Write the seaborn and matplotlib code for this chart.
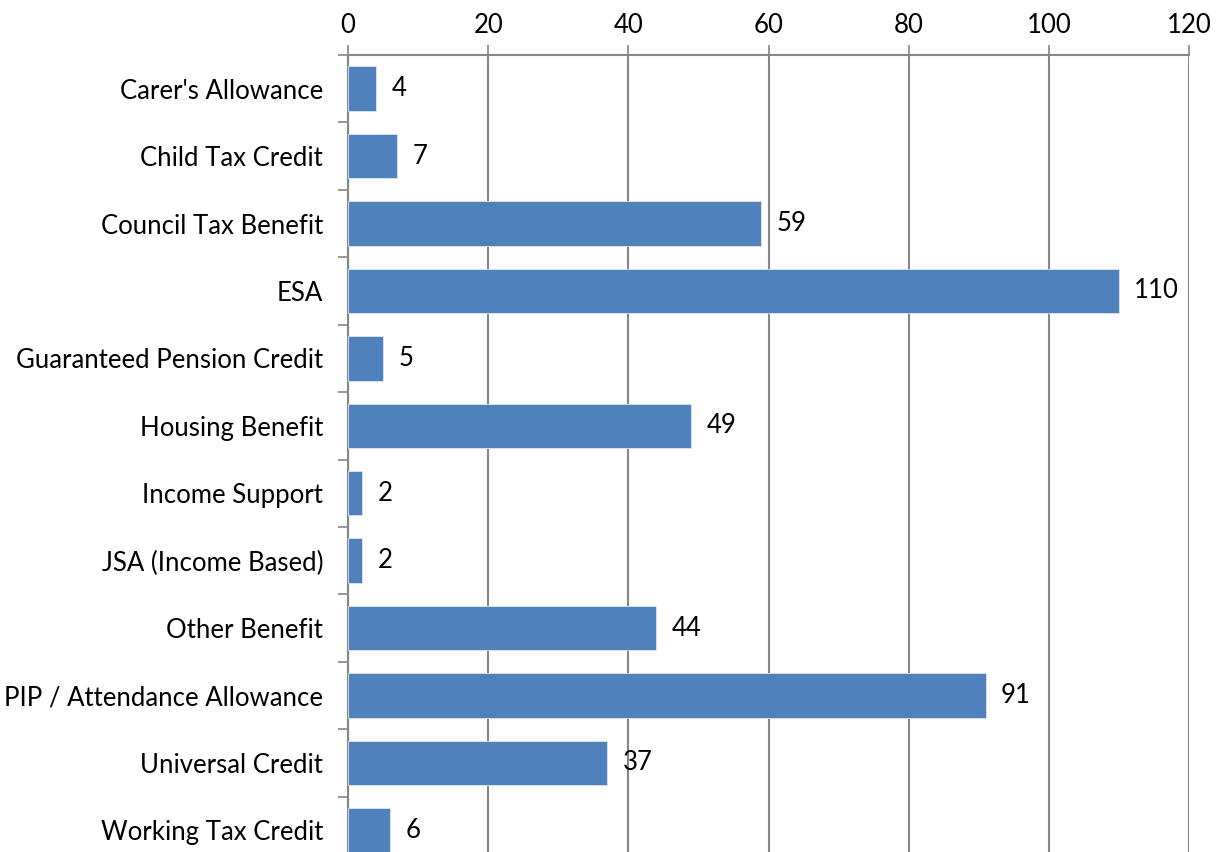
import matplotlib
matplotlib.use("Agg")
import matplotlib.pyplot as plt
from matplotlib.ticker import FixedLocator
import numpy as np
import pandas as pd
import seaborn as sns

benefits = ["Carer's Allowance", "Child Tax Credit", "Council Tax Benefit", "ESA",
            "Guaranteed Pension Credit", "Housing Benefit", "Income Support",
            "JSA (Income Based)", "Other Benefit", "PIP / Attendance Allowance",
            "Universal Credit", "Working Tax Credit"]
counts = [4, 7, 59, 110, 5, 49, 2, 2, 44, 91, 37, 6]
x_ticks = [0, 20, 40, 60, 80, 100, 120]

df = pd.DataFrame({"benefit": benefits, "count": counts})

sns.set_style("white")
plt.rcParams['font.family'] = ['Lato', 'DejaVu Sans']
plt.rcParams['text.color'] = 'black'
plt.rcParams['xtick.color'] = 'black'
plt.rcParams['ytick.color'] = 'black'

fig = plt.figure(figsize=(12.29, 8.52), dpi=100)
# axes top at y=55 px, bottom runs off the figure
ax = fig.add_axes([348 / 1229, 1 - 864 / 852, (1189 - 348) / 1229, (864 - 55) / 852])

sns.barplot(data=df, x="count", y="benefit", orient="h", color="#4F81BD",
            saturation=1, width=0.66, edgecolor="#dce6f2", linewidth=0.6, ax=ax, zorder=3)

ax.set_xlim(0, 120)
ax.set_ylim(len(benefits) - 0.5, -0.5)
ax.xaxis.set_major_locator(FixedLocator(x_ticks))
ax.xaxis.tick_top()
ax.grid(axis="x", color="#868686", linewidth=1.5, zorder=0)
ax.set_axisbelow(True)

# y ticks between categories
ax.set_yticks(np.arange(len(benefits)))
ax.set_yticklabels(benefits)
ax.set_yticks(np.arange(-0.5, len(benefits)), minor=True)
ax.tick_params(axis="y", which="major", length=0, pad=18, labelsize=18.5, labelcolor="black")
ax.tick_params(axis="y", which="minor", length=7, width=1.2, color="#868686", left=True)
ax.tick_params(axis="x", which="major", length=7, width=1.2, color="#868686", top=True,
               bottom=False, labelsize=18.5, pad=5, labelcolor="black")

for s in ["right", "bottom"]:
    ax.spines[s].set_visible(False)
for s in ["left", "top"]:
    ax.spines[s].set_color("#868686")
    ax.spines[s].set_linewidth(1.5)

ax.set_xlabel("")
ax.set_ylabel("")

for c in ax.containers:
    ax.bar_label(c, labels=[str(v) for v in counts], padding=11, fontsize=18.5, color="black")

fig.savefig("out.png", dpi=100)
